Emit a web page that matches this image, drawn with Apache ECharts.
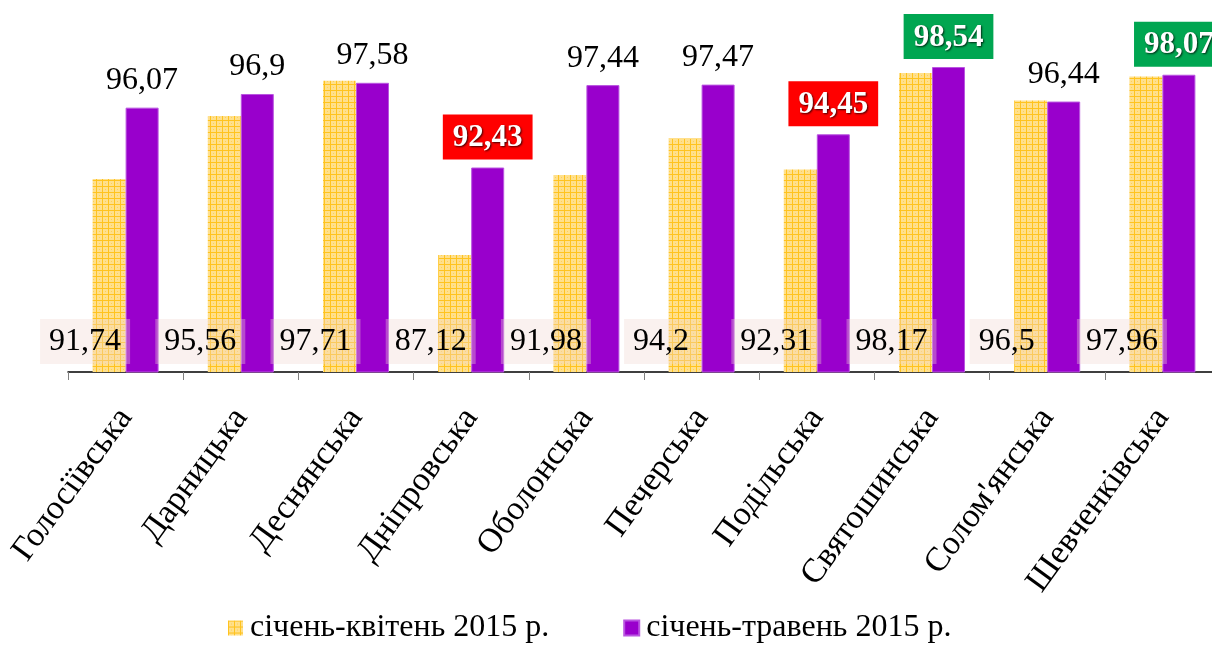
<!DOCTYPE html>
<html>
<head>
<meta charset="utf-8">
<script src="https://cdn.jsdelivr.net/npm/echarts@6/dist/echarts.min.js"></script>
<style>
html,body{margin:0;padding:0;background:#fff;}
#chart{width:1212px;height:648px;}
</style>
</head>
<body>
<div id="chart"></div>
<script>
// ---- data ----
const categories = ['Голосіївська','Дарницька','Деснянська','Дніпровська','Оболонська','Печерська','Подільська','Святошинська','Солом\'янська','Шевченківська'];
const seriesNames = ['січень-квітень 2015 р.','січень-травень 2015 р.'];
const aprValues = [91.74, 95.56, 97.71, 87.12, 91.98, 94.2, 92.31, 98.17, 96.5, 97.96];
const mayValues = [96.07, 96.9, 97.58, 92.43, 97.44, 97.47, 94.45, 98.54, 96.44, 98.07];
const lowFlagged = ['Дніпровська','Подільська'];
const highFlagged = ['Святошинська','Шевченківська'];

const fmt = v => String(v).replace('.', ',');
const FONT = '"Liberation Serif","Times New Roman",serif';

// yellow checkered pattern
const pat = document.createElement('canvas');
pat.width = 6; pat.height = 6;
const pc = pat.getContext('2d');
pc.fillStyle = '#ffe08c'; pc.fillRect(0,0,6,6);
pc.fillStyle = '#ffc31f'; pc.fillRect(0,0,6,1); pc.fillRect(0,0,1,6);
pc.fillStyle = '#ffd055'; pc.fillRect(3,3,1,1);
const yellowFill = {image: pat, repeat: 'repeat'};

const boxLabel = (bg) => ({
  show: true, position: 'top', distance: 8,
  backgroundColor: bg, padding: [8, 10, 6, 10],
  color: '#fff', fontFamily: FONT, fontWeight: 'bold', fontSize: 31,
  textShadowColor: 'rgba(0,0,0,0.75)', textShadowBlur: 2,
  textShadowOffsetX: 1, textShadowOffsetY: 1
});

const mayData = mayValues.map((v, i) => {
  const c = categories[i];
  if (lowFlagged.includes(c)) return {value: v, label: boxLabel('#ff0000')};
  if (highFlagged.includes(c)) return {value: v, label: boxLabel('#00a651')};
  return v;
});

const chart = echarts.init(document.getElementById('chart'), null, {renderer: 'canvas'});
chart.setOption({
  animation: false,
  backgroundColor: '#ffffff',
  grid: {left: 68, width: 1152, top: 43, height: 329, containLabel: false, outerBoundsMode: 'none'},
  legend: {
    data: [
      {name: seriesNames[0], icon: 'rect', itemStyle: {color: yellowFill}},
      {name: seriesNames[1], icon: 'rect'}
    ],
    left: 228, top: 612, itemWidth: 15, itemHeight: 15, itemGap: 74, padding: 0,
    textStyle: {fontFamily: FONT, fontSize: 32, color: '#000', padding: [0,0,0,2]}
  },
  xAxis: {
    type: 'category', data: categories,
    axisLine: {lineStyle: {color: '#000', width: 1.5}},
    axisTick: {show: true, length: 8, lineStyle: {color: '#808080'}},
    axisLabel: {
      rotate: 54, interval: 0, margin: 40, fontFamily: FONT, fontSize: 34, color: '#000',
      align: 'right', verticalAlign: 'middle'
    }
  },
  yAxis: {
    type: 'value', min: 80, max: 100, interval: 5, show: false,
    splitLine: {show: false}
  },
  series: [
    {
      name: seriesNames[0], type: 'bar', data: aprValues,
      barWidth: 33, barGap: '0%',
      itemStyle: {color: yellowFill},
      label: {
        show: true, position: 'insideBottom', distance: 8, offset: [-24, 0],
        formatter: p => fmt(p.value),
        fontFamily: FONT, fontSize: 32, color: '#000',
        backgroundColor: 'rgba(240,215,208,0.35)', padding: [7, 9, 6, 9]
      }
    },
    {
      name: seriesNames[1], type: 'bar', data: mayData,
      barWidth: 33, barGap: '0%',
      itemStyle: {color: '#9900cc', borderColor: '#b955e0', borderWidth: 1},
      label: {
        show: true, position: 'top', distance: 11,
        formatter: p => fmt(p.value),
        fontFamily: FONT, fontSize: 32, color: '#000'
      }
    }
  ]
});
</script>
</body>
</html>
